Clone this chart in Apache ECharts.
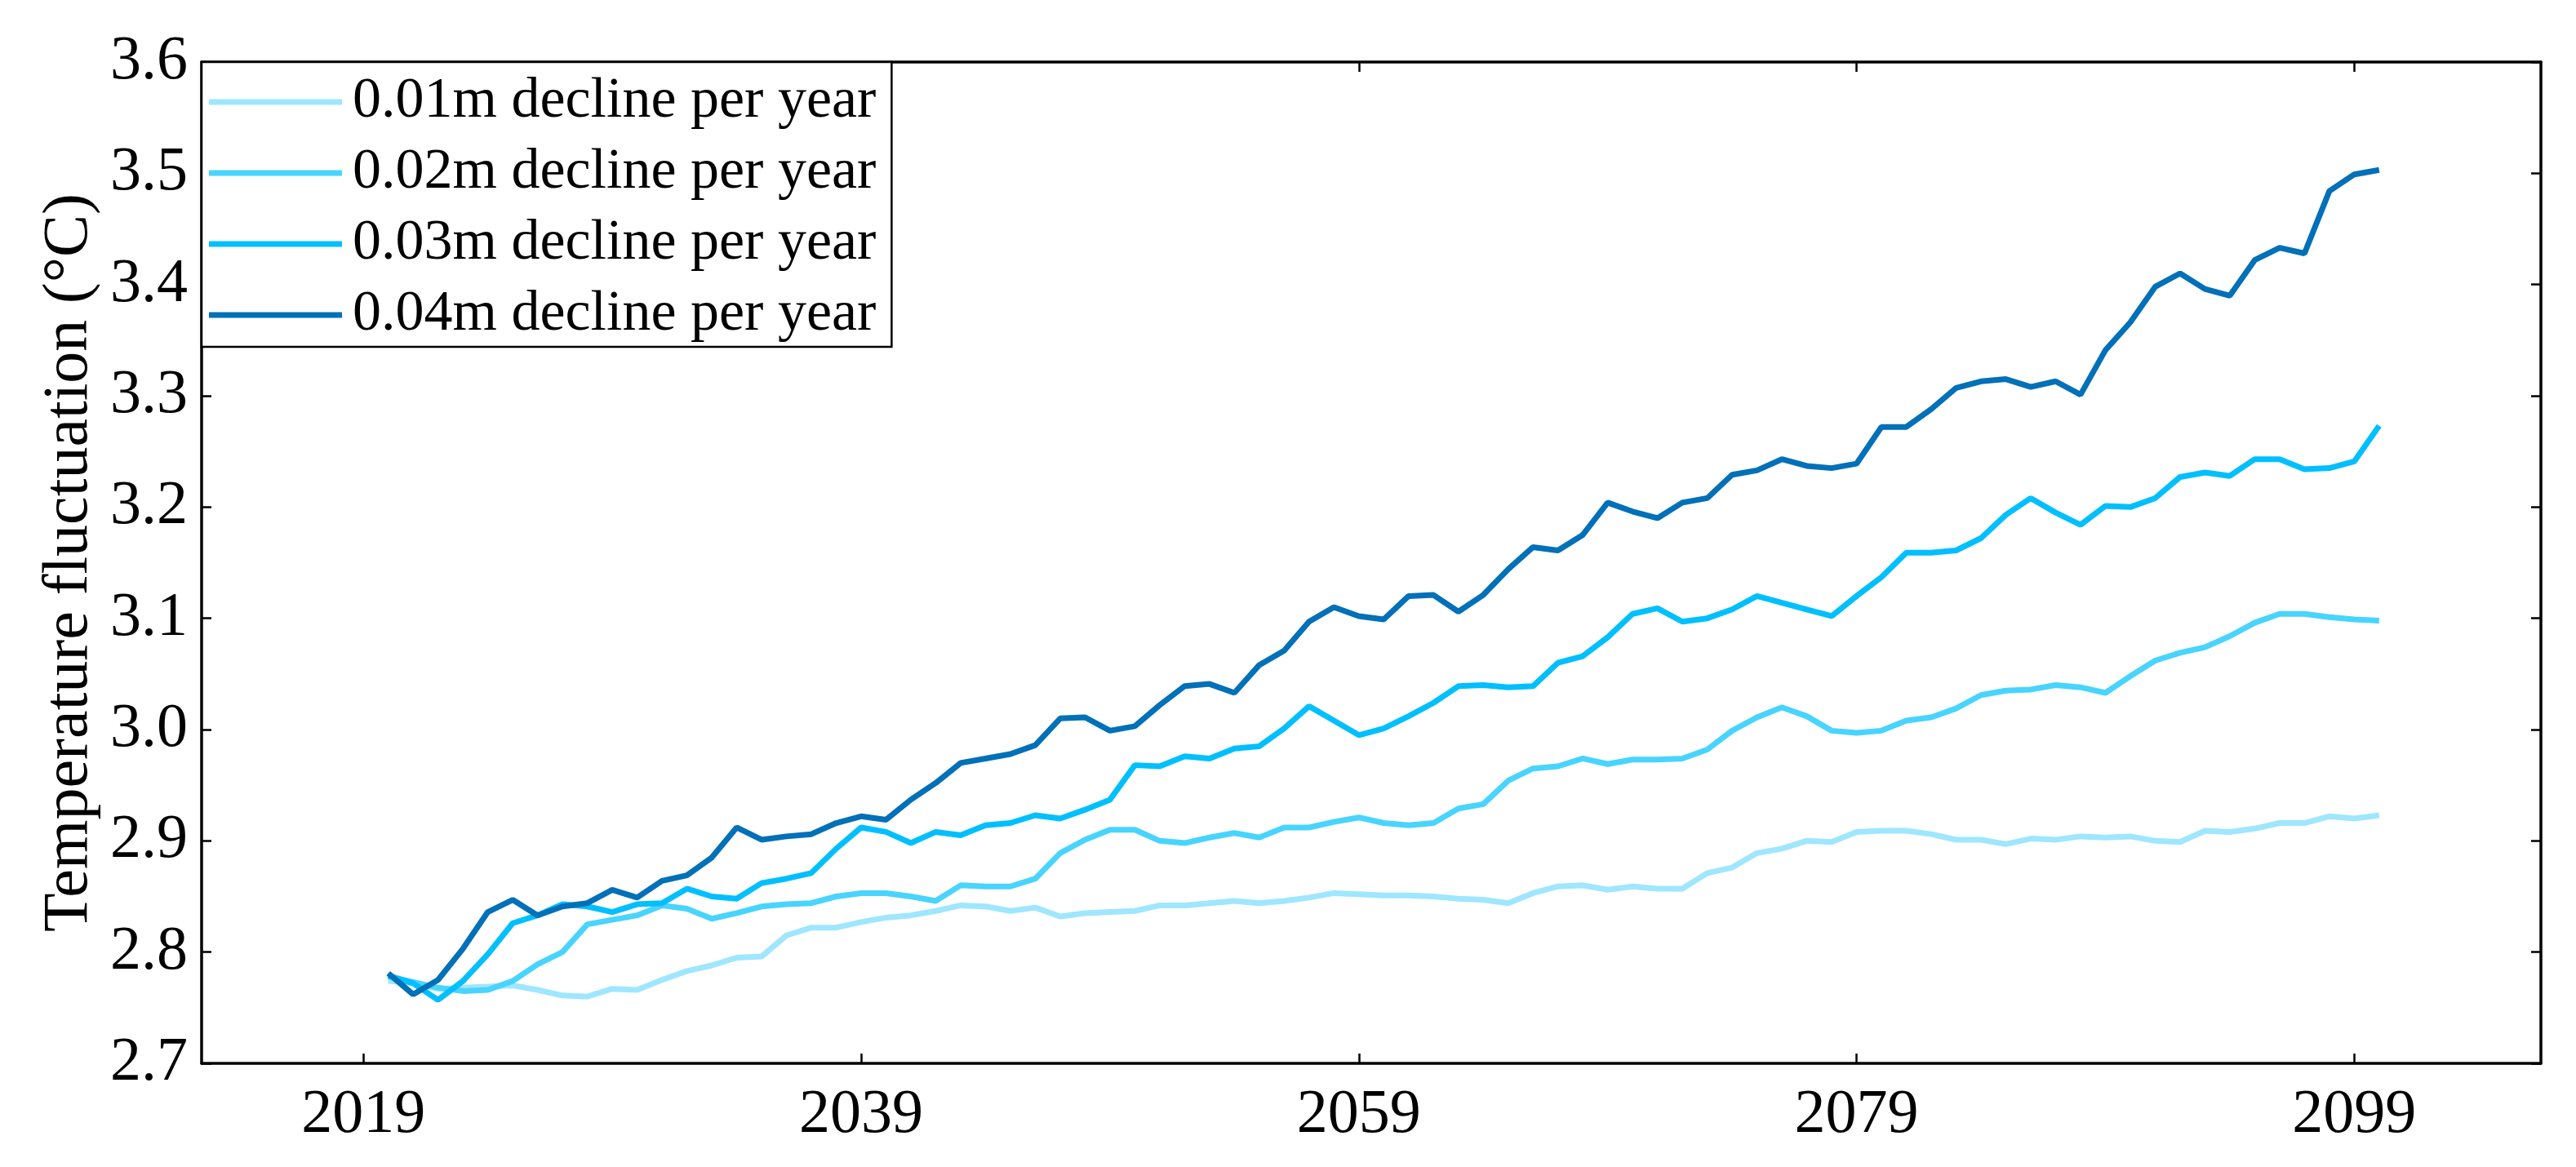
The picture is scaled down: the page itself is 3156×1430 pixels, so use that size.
<!DOCTYPE html>
<html>
<head>
<meta charset="utf-8">
<script src="https://cdn.jsdelivr.net/npm/echarts@6/dist/echarts.min.js"></script>
<style>
html,body{margin:0;padding:0;background:#fff;}
#chart{width:3156px;height:1430px;}
</style>
</head>
<body>
<div id="chart"></div>
<script>
const years = [2020,2021,2022,2023,2024,2025,2026,2027,2028,2029,
  2030,2031,2032,2033,2034,2035,2036,2037,2038,2039,
  2040,2041,2042,2043,2044,2045,2046,2047,2048,2049,
  2050,2051,2052,2053,2054,2055,2056,2057,2058,2059,
  2060,2061,2062,2063,2064,2065,2066,2067,2068,2069,
  2070,2071,2072,2073,2074,2075,2076,2077,2078,2079,
  2080,2081,2082,2083,2084,2085,2086,2087,2088,2089,
  2090,2091,2092,2093,2094,2095,2096,2097,2098,2099,2100];

const seriesNames = ['0.01m decline per year','0.02m decline per year','0.03m decline per year','0.04m decline per year'];

const decline001 = [2.774,2.772,2.767,2.768,2.769,2.770,2.766,2.761,2.760,2.767,
  2.766,2.775,2.783,2.788,2.795,2.796,2.815,2.822,2.822,2.827,
  2.831,2.833,2.837,2.842,2.841,2.837,2.840,2.832,2.835,2.836,
  2.837,2.842,2.842,2.844,2.846,2.844,2.846,2.849,2.853,2.852,
  2.851,2.851,2.850,2.848,2.847,2.844,2.853,2.859,2.860,2.856,
  2.859,2.857,2.857,2.871,2.876,2.889,2.893,2.900,2.899,2.908,
  2.909,2.909,2.906,2.901,2.901,2.897,2.902,2.901,2.904,2.903,
  2.904,2.900,2.899,2.909,2.908,2.911,2.916,2.916,2.922,2.920,2.923];

const decline002 = [2.778,2.773,2.768,2.765,2.766,2.774,2.789,2.800,2.825,2.829,
  2.833,2.842,2.839,2.830,2.835,2.841,2.843,2.844,2.850,2.853,
  2.853,2.850,2.846,2.860,2.859,2.859,2.866,2.889,2.901,2.910,
  2.910,2.900,2.898,2.903,2.907,2.903,2.912,2.912,2.917,2.921,
  2.916,2.914,2.916,2.929,2.933,2.954,2.965,2.967,2.974,2.969,
  2.973,2.973,2.974,2.982,2.999,3.011,3.020,3.012,2.999,2.997,
  2.999,3.008,3.011,3.019,3.031,3.035,3.036,3.040,3.038,3.033,
  3.048,3.062,3.069,3.074,3.084,3.096,3.104,3.104,3.101,3.099,3.098];

const decline003 = [2.779,2.772,2.757,2.774,2.798,2.826,2.833,2.843,2.841,2.836,
  2.843,2.844,2.857,2.850,2.848,2.862,2.866,2.871,2.893,2.912,
  2.908,2.898,2.908,2.905,2.914,2.916,2.923,2.920,2.928,2.937,
  2.968,2.967,2.976,2.974,2.983,2.985,3.001,3.021,3.008,2.995,
  3.001,3.012,3.024,3.039,3.040,3.038,3.039,3.060,3.066,3.083,
  3.104,3.109,3.097,3.100,3.108,3.120,3.114,3.108,3.102,3.120,
  3.137,3.159,3.159,3.161,3.172,3.193,3.208,3.195,3.184,3.201,
  3.200,3.208,3.227,3.231,3.228,3.243,3.243,3.234,3.235,3.241,3.273];

const decline004 = [2.781,2.762,2.775,2.803,2.836,2.847,2.833,2.841,2.844,2.856,
  2.849,2.864,2.869,2.885,2.912,2.901,2.904,2.906,2.916,2.922,
  2.919,2.937,2.952,2.970,2.974,2.978,2.986,3.010,3.011,2.999,
  3.003,3.022,3.039,3.041,3.033,3.058,3.071,3.097,3.110,3.102,
  3.099,3.120,3.121,3.106,3.121,3.144,3.164,3.161,3.175,3.204,
  3.196,3.190,3.204,3.208,3.229,3.233,3.243,3.237,3.235,3.239,
  3.272,3.272,3.288,3.307,3.313,3.315,3.308,3.313,3.301,3.341,
  3.366,3.398,3.410,3.396,3.390,3.422,3.433,3.428,3.484,3.499,3.503];

const xTickValues = [2019,2039,2059,2079,2099];
const yAxisTitle = 'Temperature fluctuation (°C)';

const colors = ['#9fe6ff','#48d4ff','#00bfff','#0070b8'];
const allValues = [decline001, decline002, decline003, decline004];

const FONT = '"Liberation Serif", "Times New Roman", serif';

const chart = echarts.init(document.getElementById('chart'), null, {renderer: 'canvas'});

const axisLineStyle = {color: '#000', width: 3.5};

const series = allValues.map((vals, i) => ({
  name: seriesNames[i],
  type: 'line',
  xAxisIndex: 0,
  yAxisIndex: 0,
  symbol: 'none',
  showSymbol: false,
  smooth: false,
  animation: false,
  lineStyle: {color: colors[i], width: 7},
  itemStyle: {color: colors[i]},
  data: years.map((y, k) => [y, vals[k]]),
  z: 2 + i
}));

chart.setOption({
  backgroundColor: '#ffffff',
  animation: false,
  grid: {left: 247, right: 43, top: 76, bottom: 127, containLabel: false, outerBoundsMode: 'none'},
  legend: {
    show: true,
    left: 247,
    top: 76,
    orient: 'vertical',
    data: seriesNames,
    itemWidth: 163,
    itemHeight: 7,
    itemGap: 17,
    padding: [14, 19, 4, 9],
    backgroundColor: '#fff',
    borderColor: '#000',
    borderWidth: 2.5,
    borderRadius: 0,
    icon: 'rect',
    textStyle: {fontFamily: FONT, fontSize: 70, color: '#000', padding: [0, 0, 0, 8]},
    selectedMode: false
  },
  xAxis: [{
    type: 'value',
    position: 'bottom',
    min: 2012.5,
    max: 2106.5,
    splitLine: {show: false},
    axisLine: {show: true, onZero: false, lineStyle: axisLineStyle},
    axisTick: {show: true, inside: true, length: 12, customValues: xTickValues, lineStyle: {color: '#000', width: 2.5}},
    axisLabel: {show: true, customValues: xTickValues, fontFamily: FONT, fontSize: 76, color: '#000', margin: 26,
      formatter: v => String(Math.round(v))}
  }, {
    type: 'value',
    position: 'top',
    min: 2012.5,
    max: 2106.5,
    splitLine: {show: false},
    axisLine: {show: true, onZero: false, lineStyle: axisLineStyle},
    axisTick: {show: true, inside: true, length: 12, customValues: xTickValues, lineStyle: {color: '#000', width: 2.5}},
    axisLabel: {show: false}
  }],
  yAxis: [{
    type: 'value',
    position: 'left',
    min: 2.7,
    max: 3.6,
    interval: 0.1,
    splitLine: {show: false},
    axisLine: {show: true, onZero: false, lineStyle: axisLineStyle},
    axisTick: {show: true, inside: true, length: 12, lineStyle: {color: '#000', width: 2.5}},
    axisLabel: {show: true, fontFamily: FONT, fontSize: 76, color: '#000', margin: 17,
      formatter: v => v.toFixed(1)},
    name: yAxisTitle,
    nameLocation: 'middle',
    nameRotate: 90,
    nameGap: 118,
    nameTextStyle: {fontFamily: FONT, fontSize: 78, color: '#000'}
  }, {
    type: 'value',
    position: 'right',
    min: 2.7,
    max: 3.6,
    interval: 0.1,
    splitLine: {show: false},
    axisLine: {show: true, onZero: false, lineStyle: axisLineStyle},
    axisTick: {show: true, inside: true, length: 12, lineStyle: {color: '#000', width: 2.5}},
    axisLabel: {show: false}
  }],
  series: series
});
</script>
</body>
</html>
